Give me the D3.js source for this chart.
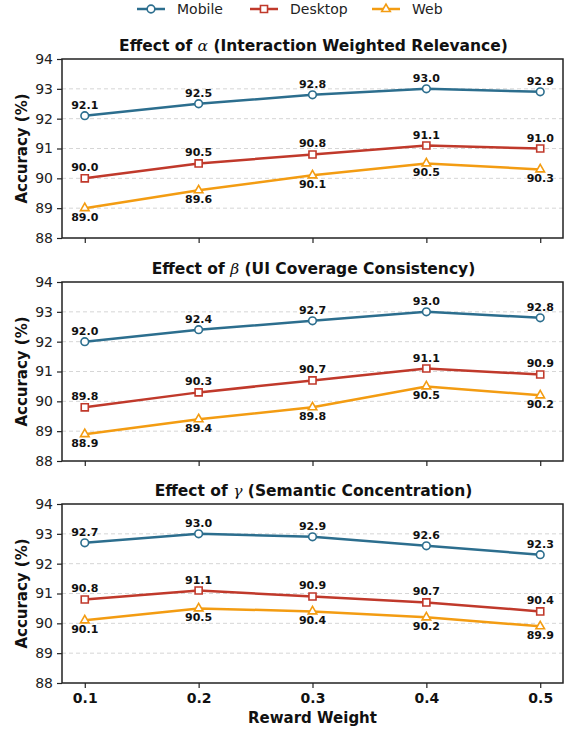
<!DOCTYPE html>
<html><head><meta charset="utf-8">
<script src="https://cdnjs.cloudflare.com/ajax/libs/d3/7.8.5/d3.min.js"></script>
<style>body{margin:0;background:#fff}svg{display:block;font-family:"DejaVu Sans",sans-serif}</style>
</head><body>
<script>
const weights = [0.1, 0.2, 0.3, 0.4, 0.5];
const seriesNames = ["Mobile", "Desktop", "Web"];
const panelTitles = ["Interaction Weighted Relevance", "UI Coverage Consistency", "Semantic Concentration"];
const panelSymbols = ["α", "β", "γ"];
const alphaMobile = [92.1, 92.5, 92.8, 93.0, 92.9];
const alphaDesktop = [90.0, 90.5, 90.8, 91.1, 91.0];
const alphaWeb = [89.0, 89.6, 90.1, 90.5, 90.3];
const betaMobile = [92.0, 92.4, 92.7, 93.0, 92.8];
const betaDesktop = [89.8, 90.3, 90.7, 91.1, 90.9];
const betaWeb = [88.9, 89.4, 89.8, 90.5, 90.2];
const gammaMobile = [92.7, 93.0, 92.9, 92.6, 92.3];
const gammaDesktop = [90.8, 91.1, 90.9, 90.7, 90.4];
const gammaWeb = [90.1, 90.5, 90.4, 90.2, 89.9];
const yTicks = [88, 89, 90, 91, 92, 93, 94];

const panels = [
  [alphaMobile, alphaDesktop, alphaWeb],
  [betaMobile, betaDesktop, betaWeb],
  [gammaMobile, gammaDesktop, gammaWeb]
];
const colors = ["#2c6e8e", "#c0392b", "#f39c12"];
const markers = [d3.symbolCircle, d3.symbolSquare, d3.symbolTriangle];

const W = 566, H = 730;
const svg = d3.select("body").append("svg").attr("width", W).attr("height", H);

const left = 62, right = 563;
const tops = [59, 282, 504];
const ph = 179;

const x = d3.scaleLinear().domain([0.08, 0.52]).range([left, right]);

function markerPath(i) {
  const sizes = [46, 50, 32];
  return d3.symbol().type(markers[i]).size(sizes[i])();
}

panels.forEach((series, pi) => {
  const top = tops[pi];
  const y = d3.scaleLinear().domain([88, 94]).range([top + ph, top]);
  const g = svg.append("g");

  g.selectAll(".grid").data(yTicks.slice(1, -1)).enter().append("line")
    .attr("x1", left).attr("x2", right)
    .attr("y1", d => y(d)).attr("y2", d => y(d))
    .attr("stroke", "#cccccc").attr("stroke-width", 0.8).attr("stroke-dasharray", "4,3");

  const ya = g.append("g").attr("transform", `translate(${left},0)`)
    .call(d3.axisLeft(y).tickValues(yTicks).tickFormat(d3.format("d")).tickSizeOuter(0).tickSize(5).tickPadding(4));
  ya.selectAll("text").attr("font-size", 14).attr("fill", "#222").attr("font-family", "DejaVu Sans");
  ya.selectAll("line").attr("stroke", "#222").attr("stroke-width", 1.2);
  ya.select(".domain").remove();

  const xa = g.append("g").attr("transform", `translate(0,${top + ph})`)
    .call(d3.axisBottom(x).tickValues(weights).tickFormat(pi === 2 ? d3.format(".1f") : "").tickSizeOuter(0).tickSize(5).tickPadding(5));
  xa.selectAll("text").attr("font-size", 14).attr("font-weight", "bold").attr("fill", "#111").attr("font-family", "DejaVu Sans");
  xa.selectAll("line").attr("stroke", "#222").attr("stroke-width", 1.2);
  xa.select(".domain").remove();

  g.append("rect").attr("x", left).attr("y", top).attr("width", right - left).attr("height", ph)
    .attr("fill", "none").attr("stroke", "#222").attr("stroke-width", 1.5);

  const t = g.append("text").attr("x", (left + right) / 2 + 1).attr("y", top - 8)
    .attr("text-anchor", "middle").attr("font-size", 15.5).attr("font-weight", "bold").attr("fill", "#111");
  t.append("tspan").text("Effect of ");
  t.append("tspan").text(panelSymbols[pi]).attr("font-style", "italic").attr("font-weight", "normal").attr("font-family", "DejaVu Serif");
  t.append("tspan").text(" (" + panelTitles[pi] + ")");

  g.append("text").attr("transform", `translate(27,${top + ph / 2}) rotate(-90)`)
    .attr("text-anchor", "middle").attr("font-size", 15).attr("font-weight", "bold").attr("fill", "#111")
    .text("Accuracy (%)");

  series.forEach((vals, si) => {
    const line = d3.line().x((d, i) => x(weights[i])).y(d => y(d));
    g.append("path").datum(vals).attr("d", line).attr("fill", "none")
      .attr("stroke", colors[si]).attr("stroke-width", 2.5).attr("stroke-linejoin", "round");
    g.selectAll(".m" + si).data(vals).enter().append("path")
      .attr("d", markerPath(si))
      .attr("transform", (d, i) => `translate(${x(weights[i])},${y(d)})`)
      .attr("fill", "#fff").attr("stroke", colors[si]).attr("stroke-width", 1.6);
    g.selectAll(".l" + si).data(vals).enter().append("text")
      .attr("x", (d, i) => x(weights[i]))
      .attr("y", d => si === 2 ? y(d) + 13 : y(d) - 7)
      .attr("text-anchor", "middle").attr("font-size", 11).attr("font-weight", "bold").attr("fill", "#111")
      .text(d => d.toFixed(1));
  });
});

svg.append("text").attr("x", (left + right) / 2).attr("y", 723)
  .attr("text-anchor", "middle").attr("font-size", 15).attr("font-weight", "bold").attr("fill", "#111")
  .text("Reward Weight");

const legX = [137, 250, 372];
seriesNames.forEach((n, i) => {
  const lg = svg.append("g").attr("transform", `translate(${legX[i]},9)`);
  lg.append("line").attr("x1", 0).attr("x2", 28).attr("stroke", colors[i]).attr("stroke-width", 2.5);
  lg.append("path").attr("d", markerPath(i)).attr("transform", "translate(14,0)")
    .attr("fill", "#fff").attr("stroke", colors[i]).attr("stroke-width", 1.6);
  lg.append("text").attr("x", 40).attr("y", 5).attr("font-size", 14).attr("fill", "#222").text(n);
});
</script>
</body></html>
